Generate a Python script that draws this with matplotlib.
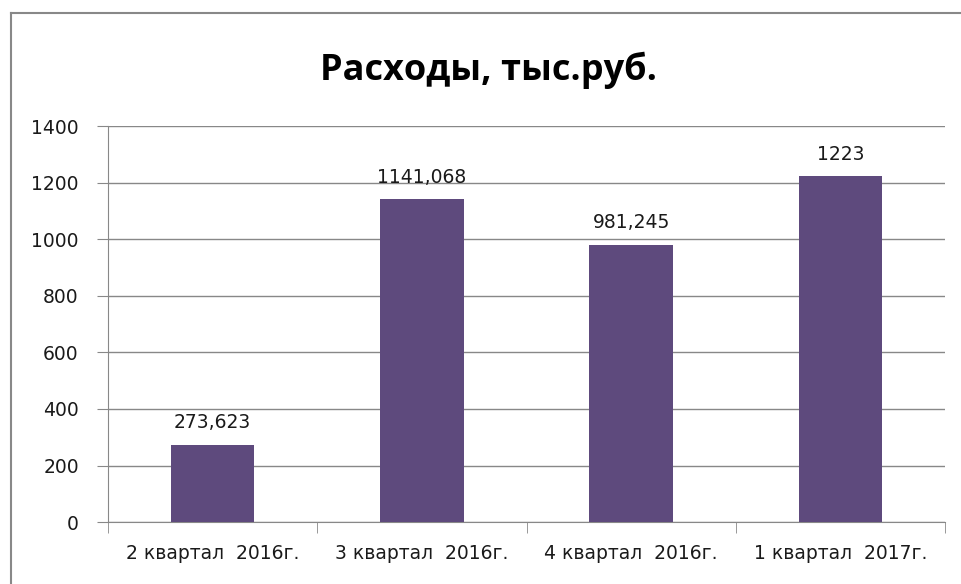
import numpy as np
import matplotlib.pyplot as plt
from matplotlib.lines import Line2D

categories = ["2 квартал  2016г.", "3 квартал  2016г.", "4 квартал  2016г.", "1 квартал  2017г."]
values = [273.623, 1141.068, 981.245, 1223]
value_labels = ["273,623", "1141,068", "981,245", "1223"]
yticks = [0, 200, 400, 600, 800, 1000, 1200, 1400]

plt.rcParams['font.family'] = ['DejaVu Sans']

fig = plt.figure(figsize=(9.61, 5.84), dpi=100)
ax = fig.add_axes([0.1124, 0.106, 0.871, 0.678])

x = np.arange(len(categories))
ax.bar(x, values, width=0.4, color='#5E4A7D', zorder=3)
for xi, v, lab in zip(x, values, value_labels):
    ax.annotate(lab, (xi, v), xytext=(0, 9), textcoords='offset points',
                ha='center', va='bottom', fontsize=13.5, color='#1a1a1a')

ax.set_xlim(-0.5, len(categories) - 0.5)
ax.set_ylim(0, 1400)
ax.set_yticks(yticks)
ax.set_xticks(x)
ax.set_xticklabels(categories, fontsize=13.5)
ax.set_xticks(np.arange(-0.5, len(categories)), minor=True)
ax.tick_params(axis='x', which='major', length=0, pad=16, colors='#1a1a1a')
ax.tick_params(axis='x', which='minor', length=8, color='#888888')
ax.tick_params(axis='y', length=8, color='#888888', labelsize=13.5, pad=13, labelcolor='#1a1a1a')
ax.grid(axis='y', color='#888888', linewidth=1, zorder=0)
for s in ['top', 'right']:
    ax.spines[s].set_visible(False)
ax.spines['left'].set_color('#888888')
ax.spines['bottom'].set_color('#888888')

fig.text(0.508, 0.88, "Расходы, тыс.руб.", ha='center', va='center',
         fontsize=26, fontweight='bold', family=['Open Sans', 'DejaVu Sans'])

# outer chart frame
fig.add_artist(Line2D([11 / 961, 11 / 961], [0, 1 - 13 / 584], color='#888888', lw=1.5))
fig.add_artist(Line2D([11 / 961, 1], [1 - 13 / 584, 1 - 13 / 584], color='#888888', lw=1.5))

fig.savefig("out.png", dpi=100)
